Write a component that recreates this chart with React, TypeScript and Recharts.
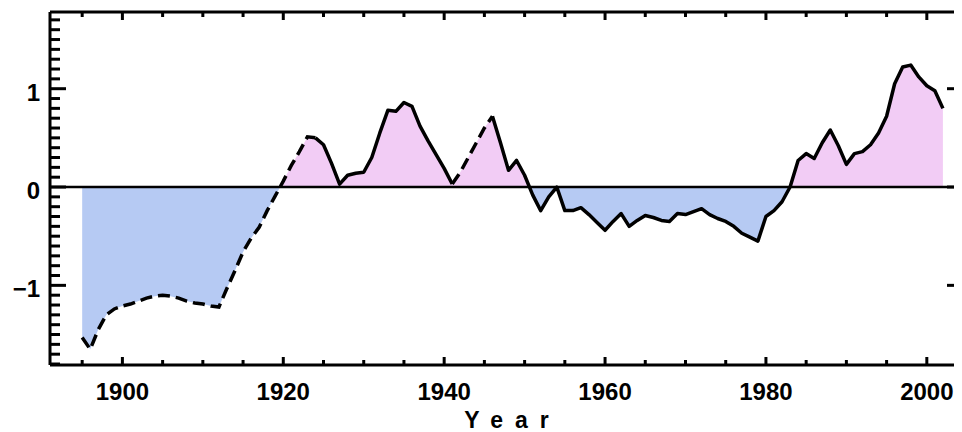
import React from 'react';
import { ComposedChart, Area, Line, XAxis, YAxis, ReferenceLine } from 'recharts';

// annual index, 1895 .. 2002
const firstYear = 1895;
const values = [
  -1.53, -1.65, -1.45, -1.3, -1.24,
  -1.21, -1.19, -1.16, -1.13, -1.11, -1.1, -1.11, -1.13, -1.16, -1.18,
  -1.19, -1.21, -1.22, -1.03, -0.85, -0.66, -0.52, -0.41, -0.24, -0.09,
  0.06, 0.22, 0.36, 0.51, 0.5, 0.43, 0.24, 0.03, 0.12, 0.14,
  0.15, 0.3, 0.55, 0.78, 0.77, 0.86, 0.82, 0.62, 0.47, 0.33,
  0.19, 0.03, 0.15, 0.3, 0.45, 0.6, 0.72, 0.45, 0.17, 0.27,
  0.12, -0.08, -0.24, -0.1, 0.0, -0.24, -0.24, -0.21, -0.28, -0.36,
  -0.44, -0.35, -0.27, -0.4, -0.34, -0.29, -0.31, -0.34, -0.35, -0.27,
  -0.28, -0.25, -0.22, -0.28, -0.32, -0.35, -0.4, -0.47, -0.51, -0.55,
  -0.3, -0.24, -0.15, 0.0, 0.27, 0.34, 0.29, 0.45, 0.58, 0.42,
  0.23, 0.34, 0.36, 0.43, 0.55, 0.72, 1.05, 1.22, 1.24, 1.12,
  1.03, 0.98, 0.8,
];
const years = values.map((_, i) => firstYear + i);

// stretches drawn with a dashed line
const dashedSpans = [
  [1895, 1924],
  [1941, 1946],
];

const xDomain = [1891, 2004];
const yDomain = [-1.81, 1.78];
const xLabels = [1900, 1920, 1940, 1960, 1980, 2000];
const yLabels = [-1, 0, 1];
const xMinor = [1895, 1900, 1905, 1910, 1915, 1920, 1925, 1930, 1935, 1940, 1945, 1950,
  1955, 1960, 1965, 1970, 1975, 1980, 1985, 1990, 1995, 2000];
const yMinor = Array.from({ length: 36 }, (_, i) => Math.round(i - 18) / 10);

const FONT = "'Liberation Sans', Arial, Helvetica, sans-serif";
const POS = '#f2ccf5';
const NEG = '#b6caf3';

const W = 954, H = 424;
const M = { top: 4, right: 3, bottom: 0, left: 0 };
const AX_W = 42, AX_H = 67;
// data units per pixel, used to size the inward tick marks
const xu = (xDomain[1] - xDomain[0]) / (W - M.left - M.right - AX_W);
const yu = (yDomain[1] - yDomain[0]) / (H - M.top - M.bottom - AX_H);

const rows = years.map((year, i) => {
  const v = values[i];
  const dashed = dashedSpans.some(([a, b]) => year >= a && year <= b);
  const solid = !dashedSpans.some(([a, b]) => year > a && year < b);
  return { year, value: v, dashed: dashed ? v : null, solid: solid ? v : null };
});

const vMax = Math.max(...values);
const vMin = Math.min(...values);
const split = vMax / (vMax - vMin);

const fmtY = (v: number) => (v < 0 ? `\u2212${Math.abs(v)}` : String(v));
const isWhole = (v: number) => Math.abs(v - Math.round(v)) < 1e-6;

const leftLabel = (p: any) => (
  <text x={p.x - 10} y={p.y + 12} textAnchor="end" fontSize={24} fontWeight={700} fontFamily={FONT} fill="#000">
    {fmtY(p.payload.value)}
  </text>
);
const bottomLabel = (p: any) => (
  <text x={p.x} y={p.y + 35} textAnchor="middle" fontSize={24} fontWeight={700} fontFamily={FONT} fill="#000">
    {p.payload.value}
  </text>
);

const tickStyle = { stroke: '#000', strokeWidth: 3 };

export default function App() {
  const [x0, x1] = xDomain;
  const [y0, y1] = yDomain;
  return (
    <div style={{ width: W, height: H, background: '#fff' }}>
      <ComposedChart width={W} height={H} data={rows} margin={M}>
        <defs>
          <linearGradient id="posneg" x1="0" y1="0" x2="0" y2="1">
            <stop offset={split} stopColor={POS} />
            <stop offset={split} stopColor={NEG} />
          </linearGradient>
        </defs>
        <XAxis
          type="number" dataKey="year" domain={xDomain} ticks={xLabels} interval={0}
          tickLine={false} tickSize={0} tickMargin={0} axisLine={false} height={AX_H} tick={bottomLabel}
          label={{ value: 'Year', position: 'insideBottom', offset: 4, dx: 8, fill: '#000', fontSize: 23, fontWeight: 700, fontFamily: FONT, letterSpacing: 12 }}
        />
        <YAxis
          type="number" domain={yDomain} ticks={yLabels} interval={0}
          tickLine={false} tickSize={0} tickMargin={0} axisLine={false} width={AX_W} tick={leftLabel}
        />
        <Area
          type="linear" dataKey="value" baseValue={0}
          stroke="none" fill="url(#posneg)" fillOpacity={1} isAnimationActive={false}
        />
        {xMinor.map((t) => {
          const len = (t % 20 === 0 ? 8 : 5) * yu;
          return [
            <ReferenceLine key={`b${t}`} segment={[{ x: t, y: y0 }, { x: t, y: y0 + len }]} {...tickStyle} />,
            <ReferenceLine key={`t${t}`} segment={[{ x: t, y: y1 }, { x: t, y: y1 - len }]} {...tickStyle} />,
          ];
        })}
        {yMinor.map((t) => {
          const major = isWhole(t);
          return [
            <ReferenceLine key={`l${t}`} segment={[{ x: x0, y: t }, { x: x0 + (major ? 16 : 10) * xu, y: t }]} {...tickStyle} />,
            <ReferenceLine key={`r${t}`} segment={[{ x: x1, y: t }, { x: x1 - (major ? 12 : 3) * xu, y: t }]} {...tickStyle} />,
          ];
        })}
        <ReferenceLine y={0} stroke="#000" strokeWidth={2.5} />
        <ReferenceLine x={x0} stroke="#000" strokeWidth={3} />
        <ReferenceLine x={x1} stroke="#000" strokeWidth={3} />
        <ReferenceLine y={y0} stroke="#000" strokeWidth={3} />
        <ReferenceLine y={y1} stroke="#000" strokeWidth={3} />
        <Line
          type="linear" dataKey="solid" stroke="#000" strokeWidth={3.5}
          strokeLinejoin="round" dot={false} activeDot={false} connectNulls={false} isAnimationActive={false}
        />
        <Line
          type="linear" dataKey="dashed" stroke="#000" strokeWidth={3.5}
          strokeDasharray="12 6" dot={false} activeDot={false} connectNulls={false} isAnimationActive={false}
        />
      </ComposedChart>
    </div>
  );
}
